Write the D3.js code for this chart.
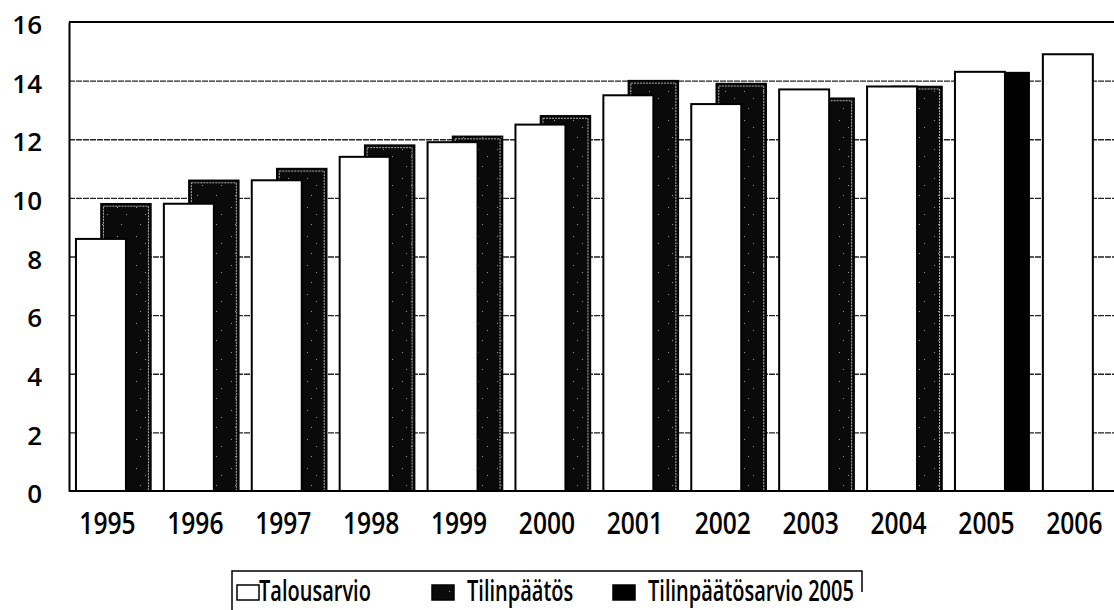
<!DOCTYPE html>
<html>
<head>
<meta charset="utf-8">
<script src="https://cdn.jsdelivr.net/npm/d3@7"></script>
<style>
  body { margin: 0; background: #fff; }
  svg { display: block; }
  text { font-family: "Open Sans", "Noto Sans", sans-serif; fill: #000; }
</style>
</head>
<body>
<svg id="chart" width="1114" height="610"></svg>
<script>
const years = ['1995', '1996', '1997', '1998', '1999', '2000', '2001', '2002', '2003', '2004', '2005', '2006'];
const talousarvio = [8.6, 9.8, 10.6, 11.4, 11.9, 12.5, 13.5, 13.2, 13.7, 13.8, 14.3, 14.9];
const tilinpaatos = [9.8, 10.6, 11.0, 11.8, 12.1, 12.8, 14.0, 13.9, 13.4, 13.8, null, null];
const tilinpaatosarvio = [null, null, null, null, null, null, null, null, null, null, 14.3, null];
const yTicks = [0, 2, 4, 6, 8, 10, 12, 14, 16];
const legendLabels = ['Talousarvio', 'Tilinpäätös', 'Tilinpäätösarvio 2005'];

const svg = d3.select('#chart');
const W = 1114;
const plotLeft = 69, plotTop = 22, plotBottom = 491;

const y = d3.scaleLinear().domain([0, 16]).range([plotBottom, plotTop]);
const x = d3.scaleBand().domain(years).range([69.5, 1124.3])
    .paddingInner(0.147).paddingOuter(0.0735);
const bw = x.bandwidth();
const barW = bw * 2 / 3;

// speckled fill for the scanned dark bars
const defs = svg.append('defs');
const pat = defs.append('pattern').attr('id', 'speckle')
    .attr('patternUnits', 'userSpaceOnUse').attr('width', 19).attr('height', 29);
pat.append('rect').attr('width', 19).attr('height', 29).attr('fill', '#0a0a0a');
[[3, 4], [12, 11], [7, 21]].forEach(d => {
    pat.append('rect').attr('x', d[0]).attr('y', d[1]).attr('width', 1).attr('height', 1)
        .attr('fill', '#fff').attr('opacity', 0.6);
});

// gridlines
svg.append('g')
    .attr('transform', `translate(${plotLeft},0)`)
    .call(d3.axisLeft(y).tickValues(yTicks.filter(v => v > 0 && v < 16)).tickSize(-(W - plotLeft)).tickFormat(''))
    .call(g => g.select('.domain').remove())
    .call(g => g.selectAll('line').attr('stroke', '#222').attr('stroke-width', 1.3).attr('stroke-dasharray', '6,1'));

// top frame line
svg.append('line').attr('x1', plotLeft).attr('x2', W).attr('y1', y(16)).attr('y2', y(16))
    .attr('stroke', '#000').attr('stroke-width', 2);

// dark bars (behind)
const darkData = years.map((yr, i) => ({ yr, v: tilinpaatos[i] })).filter(d => d.v != null);
svg.append('g').selectAll('rect').data(darkData).join('rect')
    .attr('x', d => x(d.yr) + bw / 3)
    .attr('y', d => y(d.v))
    .attr('width', barW)
    .attr('height', d => y(0) - y(d.v))
    .attr('fill', 'url(#speckle)')
    .attr('stroke', '#000').attr('stroke-width', 1.5);
svg.append('g').selectAll('rect').data(darkData).join('rect')
    .attr('x', d => x(d.yr) + bw / 3 + 2.5)
    .attr('y', d => y(d.v) + 2.5)
    .attr('width', barW - 5)
    .attr('height', d => y(0) - y(d.v) - 2.5)
    .attr('fill', 'none')
    .attr('stroke', '#ddd').attr('stroke-width', 0.8).attr('stroke-dasharray', '2,1');

const blackData = years.map((yr, i) => ({ yr, v: tilinpaatosarvio[i] })).filter(d => d.v != null);
svg.append('g').selectAll('rect').data(blackData).join('rect')
    .attr('x', d => x(d.yr) + bw / 3)
    .attr('y', d => y(d.v))
    .attr('width', barW)
    .attr('height', d => y(0) - y(d.v))
    .attr('fill', '#000');

// white bars (front)
const whiteData = years.map((yr, i) => ({ yr, v: talousarvio[i] }));
svg.append('g').selectAll('rect').data(whiteData).join('rect')
    .attr('x', d => x(d.yr))
    .attr('y', d => y(d.v))
    .attr('width', barW)
    .attr('height', d => y(0) - y(d.v))
    .attr('fill', '#fff')
    .attr('stroke', '#000').attr('stroke-width', 2);

// y axis
svg.append('g')
    .attr('transform', `translate(${plotLeft},0)`)
    .call(d3.axisLeft(y).tickValues(yTicks).tickSize(0).tickPadding(27))
    .call(g => g.select('.domain').attr('stroke', '#000').attr('stroke-width', 2))
    .call(g => g.selectAll('text').attr('font-size', 26).attr('font-weight', 600)
        .attr('font-family', '"Open Sans", sans-serif').attr('dy', '0.45em'));

// x axis
svg.append('g')
    .attr('transform', `translate(0,${plotBottom})`)
    .call(d3.axisBottom(x).tickSize(0).tickPadding(22))
    .call(g => g.select('.domain').remove())
    .call(g => g.append('line').attr('x1', plotLeft).attr('x2', W).attr('stroke', '#000').attr('stroke-width', 2))
    .call(g => g.selectAll('.tick').attr('transform', d => `translate(${x(d) + bw / 2 - 6},0)`))
    .call(g => g.selectAll('text').attr('font-size', 30).attr('font-weight', 600)
        .attr('font-family', '"Open Sans", sans-serif')
        .attr('transform', 'scale(0.82,1)'));

// legend
const lg = svg.append('g');
lg.append('path').attr('d', 'M232,640 V571 H862 V592')
    .attr('fill', 'none').attr('stroke', '#000').attr('stroke-width', 1.5);
const swX = [237, 432, 613];
const txX = [259, 467, 648];
const swFill = ['#fff', 'url(#speckle)', '#000'];
legendLabels.forEach((lab, i) => {
    lg.append('rect').attr('x', swX[i]).attr('y', 585).attr('width', 22).attr('height', 15)
        .attr('fill', swFill[i]).attr('stroke', '#000').attr('stroke-width', 1.5);
    lg.append('text').text(lab)
        .attr('transform', `translate(${txX[i]},601) scale(0.69,1)`)
        .attr('font-size', 29).attr('font-weight', 600);
});
</script>
</body>
</html>
